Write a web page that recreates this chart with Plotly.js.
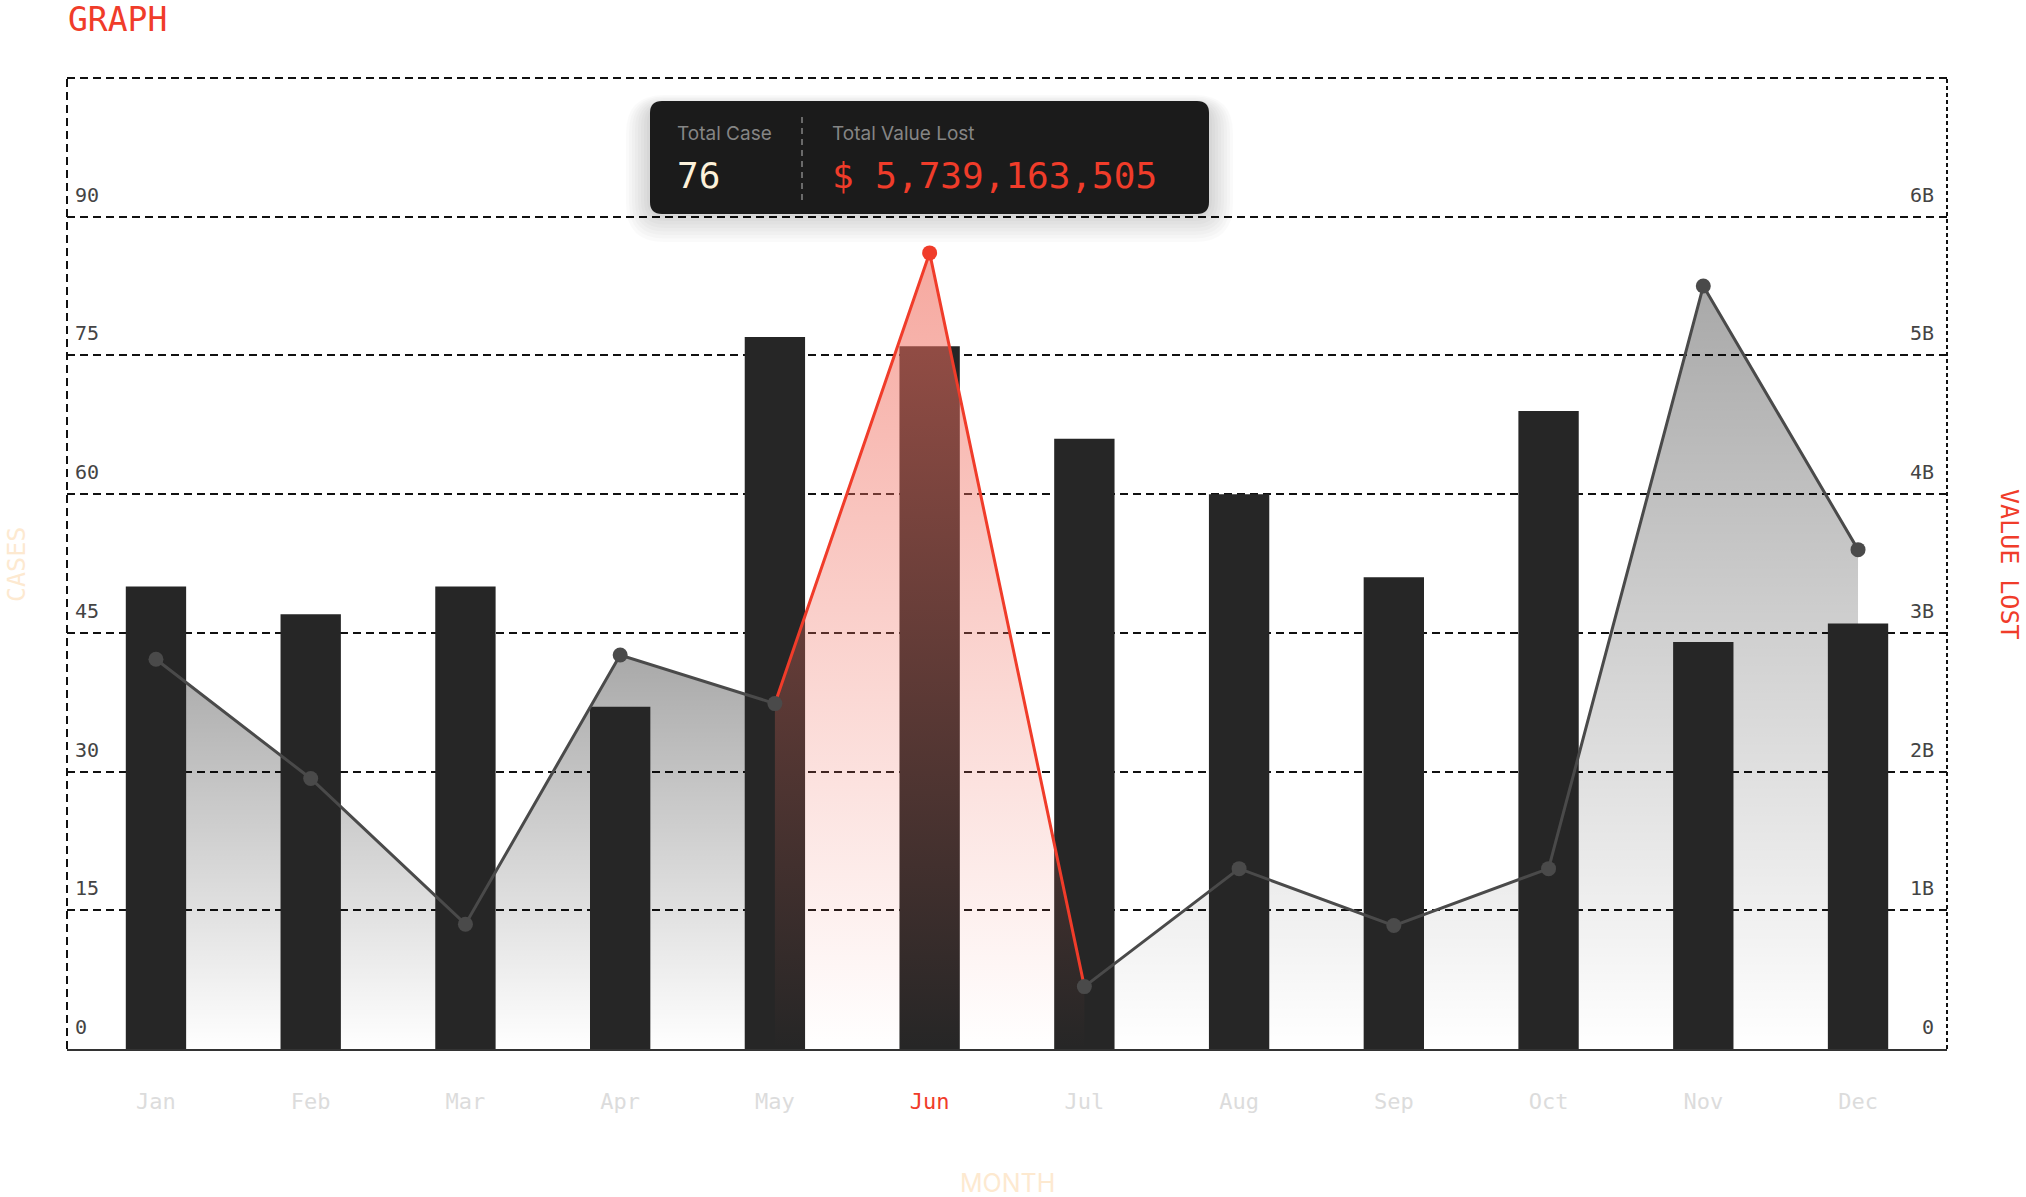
<!DOCTYPE html>
<html>
<head>
<meta charset="utf-8">
<script src="https://cdn.plot.ly/plotly-3.0.1.min.js"></script>
<style>
  html, body { margin: 0; padding: 0; background: #fff; }
  #chart { width: 2026px; height: 1197px; }
</style>
</head>
<body>
<div id="chart"></div>
<script>
// chart data
var months = ['Jan', 'Feb', 'Mar', 'Apr', 'May', 'Jun', 'Jul', 'Aug', 'Sep', 'Oct', 'Nov', 'Dec'];
var cases = [50, 47, 50, 37, 77, 76, 66, 60, 51, 69, 44, 46];
var valueLost = [2810000000, 1950000000, 900000000, 2840000000, 2490000000, 5739163505,
                 450000000, 1300000000, 890000000, 1300000000, 5500000000, 3600000000];
var caseTicks = [0, 15, 30, 45, 60, 75, 90];
var valueTicks = [0, 1e9, 2e9, 3e9, 4e9, 5e9, 6e9];
var valueTickText = ['0', '1B', '2B', '3B', '4B', '5B', '6B'];
var hi = 5; // highlighted month (Jun)

var RED = '#f03c2a';
var GREY_LINE = '#4a4a4a';
var MONO = 'DejaVu Sans Mono, monospace';

// plot area in pixels, used for the decorations only
var L = 67, R = 1947, T = 78, B = 1049;
function px(x) { return (x - L) / (R - L); }
function py(y) { return (B - y) / (B - T); }

function maxOf(a) { return Math.max.apply(null, a); }

function greyFill(i0, i1) {
  var ys = valueLost.slice(i0, i1 + 1);
  return {
    type: 'scatter', mode: 'none', yaxis: 'y',
    x: months.slice(i0, i1 + 1), y: ys,
    fill: 'tozeroy',
    fillgradient: {
      type: 'vertical', start: 0, stop: maxOf(ys),
      colorscale: [[0, 'rgba(0,0,0,0)'], [1, 'rgba(0,0,0,0.34)']]
    },
    hoverinfo: 'skip', showlegend: false
  };
}

function segLine(i0, i1, color) {
  return {
    type: 'scatter', mode: 'lines', yaxis: 'y3',
    x: months.slice(i0, i1 + 1), y: valueLost.slice(i0, i1 + 1),
    line: { color: color, width: 3 },
    hoverinfo: 'skip', showlegend: false
  };
}

var redYs = valueLost.slice(hi - 1, hi + 2);
var data = [
  greyFill(0, hi - 1),
  greyFill(hi + 1, months.length - 1),
  {
    type: 'bar', x: months, y: cases, yaxis: 'y2',
    width: 0.39,
    marker: { color: '#262626', line: { width: 0 } },
    hoverinfo: 'skip', showlegend: false
  },
  {
    type: 'scatter', mode: 'none', yaxis: 'y3',
    x: months.slice(hi - 1, hi + 2), y: redYs,
    fill: 'tozeroy',
    fillgradient: {
      type: 'vertical', start: 0, stop: maxOf(redYs),
      colorscale: [[0, 'rgba(240,110,95,0)'], [1, 'rgba(240,110,95,0.6)']]
    },
    hoverinfo: 'skip', showlegend: false
  },
  segLine(0, hi - 1, GREY_LINE),
  segLine(hi + 1, months.length - 1, GREY_LINE),
  segLine(hi - 1, hi + 1, RED),
  {
    type: 'scatter', mode: 'markers', yaxis: 'y3',
    x: months, y: valueLost,
    marker: { size: 15, color: months.map(function (m, i) { return i === hi ? RED : GREY_LINE; }) },
    hoverinfo: 'skip', showlegend: false
  }
];

var yRangeValue = [0, 7e9];
var tickFont = { family: MONO, size: 20, color: '#444' };
var layout = {
  width: 2026, height: 1197,
  margin: { l: L, r: 2026 - R, t: T, b: 1197 - B, pad: 0 },
  paper_bgcolor: '#fff', plot_bgcolor: '#fff',
  showlegend: false,
  xaxis: {
    type: 'category', categoryorder: 'array', categoryarray: months,
    range: [-0.575, 11.575],
    tickvals: months,
    ticktext: months.map(function (m, i) {
      return i === hi ? '<span style="color:' + RED + '">' + m + '</span>' : m;
    }),
    tickfont: { family: MONO, size: 22, color: '#dcdcdc' },
    ticks: '', ticklabelstandoff: 32,
    showgrid: false, zeroline: false,
    showline: true, linecolor: '#333', linewidth: 2
  },
  yaxis: {
    range: yRangeValue, side: 'right',
    tickvals: valueTicks, ticktext: valueTickText,
    ticklabelposition: 'inside top', ticks: '',
    ticklabelstandoff: 10, ticklabelshift: -8,
    tickfont: tickFont,
    showgrid: true, gridcolor: '#111', gridwidth: 2, griddash: '8px,5px',
    zeroline: false, showline: false
  },
  yaxis2: {
    range: [0, 105], overlaying: 'y', side: 'left',
    tickvals: caseTicks,
    ticklabelposition: 'inside top', ticks: '',
    ticklabelstandoff: 5, ticklabelshift: -8,
    tickfont: tickFont,
    showgrid: false, zeroline: false, showline: false
  },
  yaxis3: {
    range: yRangeValue, overlaying: 'y', visible: false,
    showgrid: false, zeroline: false
  },
  shapes: [],
  annotations: []
};

// dashed frame (left, top, right)
var frameLine = { color: '#111', width: 2, dash: '8px,5px' };
layout.shapes.push(
  { type: 'line', xref: 'paper', yref: 'paper', x0: 0, x1: 0, y0: 0, y1: 1, line: frameLine, layer: 'below' },
  { type: 'line', xref: 'paper', yref: 'paper', x0: 0, x1: 1, y0: 1, y1: 1, line: frameLine, layer: 'below' },
  { type: 'line', xref: 'paper', yref: 'paper', x0: 1, x1: 1, y0: 0, y1: 1, line: { color: '#111', width: 2, dash: '4px,3px' }, layer: 'below' }
);

// tooltip card
function roundRect(x0, y0, x1, y1, r) {
  var a = px(x0), b = px(x1), c = py(y0), d = py(y1);
  var rx = r / (R - L), ry = r / (B - T);
  return 'M' + (a + rx) + ',' + c + ' L' + (b - rx) + ',' + c +
    ' Q' + b + ',' + c + ' ' + b + ',' + (c - ry) +
    ' L' + b + ',' + (d + ry) + ' Q' + b + ',' + d + ' ' + (b - rx) + ',' + d +
    ' L' + (a + rx) + ',' + d + ' Q' + a + ',' + d + ' ' + a + ',' + (d + ry) +
    ' L' + a + ',' + (c - ry) + ' Q' + a + ',' + c + ' ' + (a + rx) + ',' + c + ' Z';
}
var tip = { x0: 650, y0: 101, x1: 1209, y1: 214 };
for (var s = 8; s >= 1; s--) {
  layout.shapes.push({
    type: 'path', xref: 'paper', yref: 'paper',
    path: roundRect(tip.x0 - s * 3, tip.y0 - s * 1.5 + 6, tip.x1 + s * 3, tip.y1 + s * 3.5, 14 + s * 3),
    fillcolor: 'rgba(0,0,0,0.018)', line: { width: 0 }, layer: 'above'
  });
}
layout.shapes.push({
  type: 'path', xref: 'paper', yref: 'paper',
  path: roundRect(tip.x0, tip.y0, tip.x1, tip.y1, 12),
  fillcolor: '#1b1b1b', line: { width: 0 }, layer: 'above'
});
layout.shapes.push({
  type: 'line', xref: 'paper', yref: 'paper',
  x0: px(802), x1: px(802), y0: py(117), y1: py(200),
  line: { color: '#6a6a6a', width: 2, dash: '6px,5px' }, layer: 'above'
});

function ann(text, x, y, font, extra) {
  var a = { text: text, x: x, y: y, xref: 'paper', yref: 'paper', showarrow: false, font: font,
            xanchor: 'left', yanchor: 'middle' };
  for (var k in extra) a[k] = extra[k];
  layout.annotations.push(a);
}

ann('GRAPH', px(66), py(20), { family: MONO, size: 33, color: RED });
ann('CASES', px(16), py(565), { family: MONO, size: 25, color: '#fde9d0' }, { textangle: -90, xanchor: 'center' });
ann('VALUE LOST', px(2010), py(565), { family: MONO, size: 25, color: RED }, { textangle: 90, xanchor: 'center' });
ann('MONTH', 0.5, py(1183), { family: 'Inter, sans-serif', size: 25, color: '#fde9d0' }, { xanchor: 'center' });

ann('Total Case', px(675), py(134), { family: 'Inter, sans-serif', size: 19, color: '#858585' });
ann('Total Value Lost', px(830), py(134), { family: 'Inter, sans-serif', size: 19, color: '#858585' });
ann(String(cases[hi]), px(675), py(175), { family: MONO, size: 36, color: '#fdf1da' });
ann('$ ' + valueLost[hi].toLocaleString('en-US'), px(830), py(175), { family: MONO, size: 36, color: RED });

Plotly.newPlot('chart', data, layout, { displayModeBar: false, staticPlot: true });
</script>
</body>
</html>
